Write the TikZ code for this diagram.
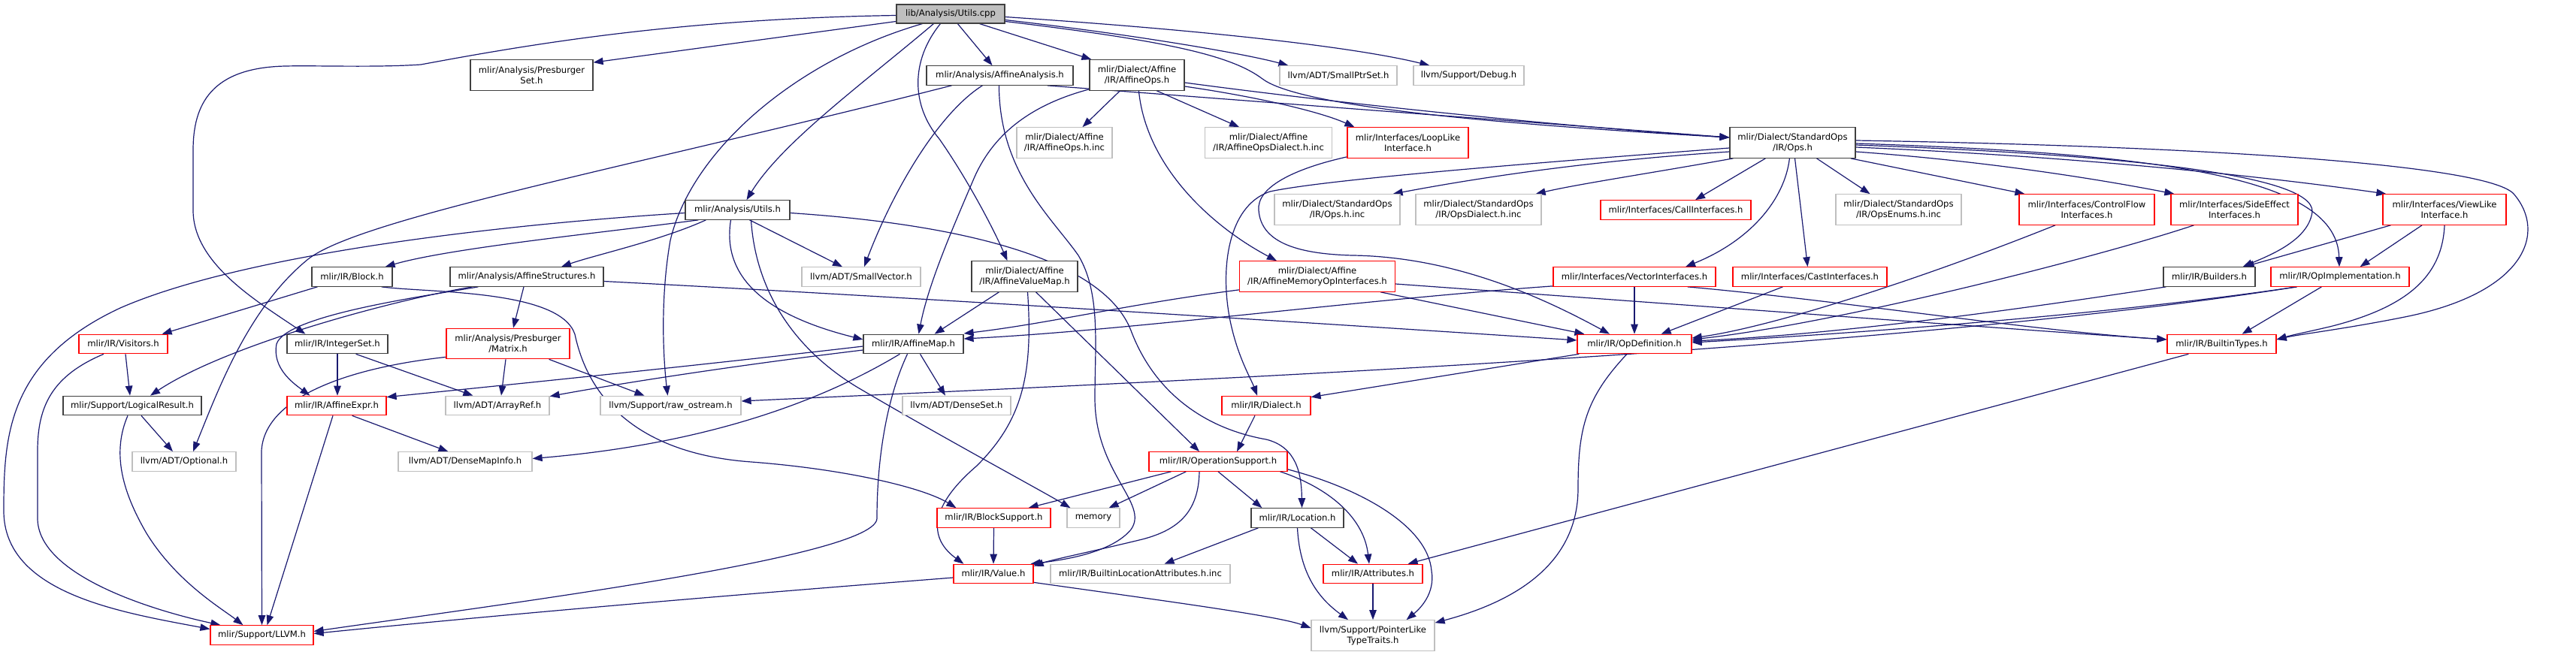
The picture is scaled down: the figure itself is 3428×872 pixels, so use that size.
\documentclass[tikz,border=0pt]{standalone}
\usepackage{fontspec}
\setmainfont{DejaVu Sans}
\usetikzlibrary{arrows.meta,calc}
\definecolor{edgecol}{HTML}{191970}
\definecolor{grayb}{HTML}{BFBFBF}
\definecolor{darkb}{HTML}{404040}
\definecolor{redb}{HTML}{FF0000}
\pgfdeclarelayer{bg}
\pgfsetlayers{bg,main}
\tikzset{
 nb/.style={draw, rectangle, line width=1.2pt, inner xsep=6pt, inner ysep=0pt,
   font=\fontsize{11.6}{14.2}\selectfont, align=center, fill=white, minimum height=25.5pt},
 bbox/.style={nb, draw=darkb},
 gbox/.style={nb, draw=grayb},
 rbox/.style={nb, draw=redb},
 rtbox/.style={nb, draw=darkb, fill=grayb},
 tall/.style={minimum height=40.5pt},
 e/.style={draw=edgecol, line width=1.2pt, -{Triangle[length=13pt,width=9.5pt]}}
}
\begin{document}
\begin{tikzpicture}[x=1pt,y=-1pt]
\useasboundingbox (0,0) rectangle (3428,872);
% ---- nodes
\node[rtbox, minimum width=144pt, minimum height=25pt] (root) at (1265,18.5) {lib/Analysis/Utils.cpp};
\node[bbox, tall, minimum width=163pt] (pset) at (707.5,100) {mlir/Analysis/Presburger\\Set.h};
\node[bbox, minimum width=195pt] (aanal) at (1330.5,100.5) {mlir/Analysis/AffineAnalysis.h};
\node[bbox, tall, minimum width=126pt] (aops) at (1513,100) {mlir/Dialect/Affine\\/IR/AffineOps.h};
\node[gbox, minimum width=156pt] (sptr) at (1781,100.5) {llvm/ADT/SmallPtrSet.h};
\node[gbox, minimum width=147pt] (dbg) at (1954.5,100.5) {llvm/Support/Debug.h};
\node[gbox, tall, minimum width=127pt] (aopsinc) at (1416.5,190) {mlir/Dialect/Affine\\/IR/AffineOps.h.inc};
\node[gbox, tall, minimum width=169pt] (aopsdinc) at (1688,190) {mlir/Dialect/Affine\\/IR/AffineOpsDialect.h.inc};
\node[rbox, tall, minimum width=161pt] (loop) at (1873.5,190) {mlir/Interfaces/LoopLike\\Interface.h};
\node[bbox, tall, minimum width=167pt] (opsh) at (2385.5,190) {mlir/Dialect/StandardOps\\/IR/Ops.h};
\node[bbox, minimum width=139pt] (uth) at (981.5,279.5) {mlir/Analysis/Utils.h};
\node[gbox, tall, minimum width=167pt] (opsinc) at (1779.5,279) {mlir/Dialect/StandardOps\\/IR/Ops.h.inc};
\node[gbox, tall, minimum width=167pt] (opsdinc) at (1967.5,279) {mlir/Dialect/StandardOps\\/IR/OpsDialect.h.inc};
\node[rbox, minimum width=200pt] (callif) at (2230,279.5) {mlir/Interfaces/CallInterfaces.h};
\node[gbox, tall, minimum width=167pt] (opsenum) at (2526.5,279) {mlir/Dialect/StandardOps\\/IR/OpsEnums.h.inc};
\node[rbox, tall, minimum width=180pt] (ctrlflow) at (2777,279) {mlir/Interfaces/ControlFlow\\Interfaces.h};
\node[rbox, tall, minimum width=169pt] (sideeff) at (2973.5,279) {mlir/Interfaces/SideEffect\\Interfaces.h};
\node[rbox, tall, minimum width=164pt] (viewlike) at (3253,279) {mlir/Interfaces/ViewLike\\Interface.h};
\node[bbox, minimum width=107pt] (block) at (468.5,368.5) {mlir/IR/Block.h};
\node[bbox, minimum width=204pt] (astruct) at (701,368.5) {mlir/Analysis/AffineStructures.h};
\node[gbox, minimum width=158pt] (svec) at (1146,368.5) {llvm/ADT/SmallVector.h};
\node[bbox, tall, minimum width=141pt] (avmap) at (1363.5,368) {mlir/Dialect/Affine\\/IR/AffineValueMap.h};
\node[rbox, tall, minimum width=207pt] (amemop) at (1753,368) {mlir/Dialect/Affine\\/IR/AffineMemoryOpInterfaces.h};
\node[rbox, minimum width=216pt] (vecif) at (2175,368.5) {mlir/Interfaces/VectorInterfaces.h};
\node[rbox, minimum width=205pt] (castif) at (2408.5,368.5) {mlir/Interfaces/CastInterfaces.h};
\node[bbox, minimum width=122pt] (builders) at (2940,368.5) {mlir/IR/Builders.h};
\node[rbox, minimum width=184pt] (opimpl) at (3114,368.5) {mlir/IR/OpImplementation.h};
\node[rbox, minimum width=118pt] (visitors) at (164,458) {mlir/IR/Visitors.h};
\node[bbox, minimum width=134pt] (intset) at (449,458) {mlir/IR/IntegerSet.h};
\node[rbox, tall, minimum width=164pt] (matrix) at (676,457.5) {mlir/Analysis/Presburger\\/Matrix.h};
\node[bbox, minimum width=133pt] (amap) at (1215.5,458) {mlir/IR/AffineMap.h};
\node[rbox, minimum width=152pt] (opdef) at (2175,458) {mlir/IR/OpDefinition.h};
\node[rbox, minimum width=145pt] (btypes) at (2956.5,458) {mlir/IR/BuiltinTypes.h};
\node[bbox, minimum width=184pt] (logres) at (176,540) {mlir/Support/LogicalResult.h};
\node[rbox, minimum width=132pt] (aexpr) at (448,540) {mlir/IR/AffineExpr.h};
\node[gbox, minimum width=138pt] (arrayref) at (662,540) {llvm/ADT/ArrayRef.h};
\node[gbox, minimum width=187pt] (rawos) at (892.5,540) {llvm/Support/raw\_ostream.h};
\node[gbox, minimum width=144pt] (denseset) at (1273,540) {llvm/ADT/DenseSet.h};
\node[rbox, minimum width=118pt] (dialect) at (1685,540) {mlir/IR/Dialect.h};
\node[gbox, minimum width=138pt] (optional) at (245,614.5) {llvm/ADT/Optional.h};
\node[gbox, minimum width=178pt] (dmapinfo) at (619,614.5) {llvm/ADT/DenseMapInfo.h};
\node[rbox, minimum width=184pt] (opsupport) at (1621,614.5) {mlir/IR/OperationSupport.h};
\node[rbox, minimum width=151pt] (blocksup) at (1322.5,689.5) {mlir/IR/BlockSupport.h};
\node[gbox, minimum width=70pt] (memory) at (1455,689.5) {memory};
\node[bbox, minimum width=123pt] (location) at (1726.5,689.5) {mlir/IR/Location.h};
\node[rbox, minimum width=106pt] (value) at (1322,764) {mlir/IR/Value.h};
\node[gbox, minimum width=239pt] (bla) at (1517.5,764) {mlir/IR/BuiltinLocationAttributes.h.inc};
\node[rbox, minimum width=132pt] (attrs) at (1827,764) {mlir/IR/Attributes.h};
\node[rbox, minimum width=137pt] (llvm) at (348.5,845.5) {mlir/Support/LLVM.h};
\node[gbox, tall, minimum width=164pt] (ptrlike) at (1827,846) {llvm/Support/PointerLike\\TypeTraits.h};
% ---- edges
\begin{pgfonlayer}{bg}
\fill[white] (0,0) rectangle (3428,872);
% root
\draw[e] ($(root.west)+(0,2)$) .. controls (900,25) and (700,60) .. (560,86) .. controls (500,90) and (420,87) .. (380,88) .. controls (280,90) and (257,140) .. (257,200) -- (257,280) .. controls (257,350) and (340,400) .. ($(intset.north west)+(25,0)$);
\draw[e] ($(root.west)+(0,10)$) -- ($(pset.north east)+(0,4)$);
\draw[e] ($(root.south west)+(35,0)$) .. controls (1060,80) and (920,200) .. (892,320) .. controls (878,400) and (883,480) .. ($(rawos.north)+(-4,0)$);
\draw[e] ($(root.south west)+(50,0)$) .. controls (1150,110) and (1040,190) .. ($(uth.north)+(12,0)$);
\draw[e] ($(root.south west)+(59,0)$) .. controls (1212,80) and (1212,140) .. (1250,185) .. controls (1285,235) and (1320,300) .. ($(avmap.north)+(-23,0)$);
\draw[e] ($(root.south west)+(82,0)$) -- ($(aanal.north)+(-10,0)$);
\draw[e] ($(root.south east)+(-34,0)$) -- ($(aops.north west)+(3,0)$);
\draw[e] ($(root.east)+(0,4)$) .. controls (1600,40) and (1800,62) .. ($(dbg.north west)+(22,0)$);
\draw[e] ($(root.east)+(0,8)$) .. controls (1500,45) and (1650,70) .. ($(sptr.north west)+(12,0)$);
\draw[e] ($(root.east)+(0,10)$) .. controls (1560,55) and (1640,75) .. (1680,105) .. controls (1720,135) and (1900,160) .. ($(opsh.west)+(0,-7)$);
% aanal
\draw[e] ($(aanal.south west)+(34,0)$) .. controls (850,220) and (480,290) .. (410,345) .. controls (330,410) and (290,520) .. ($(optional.north)+(12,0)$);
\draw[e] ($(aanal.south west)+(75,0)$) .. controls (1250,150) and (1190,250) .. ($(svec.north)+(4,0)$);
\draw[e] ($(aanal.south west)+(97,0)$) .. controls (1330,230) and (1400,290) .. (1435,340) .. controls (1465,390) and (1457,460) .. (1457,530) .. controls (1457,630) and (1530,670) .. (1505,705) .. controls (1480,735) and (1420,745) .. ($(value.north east)+(-4,0)$);
\draw[e] ($(aanal.south east)+(-35,0)$) -- ($(opsh.west)+(0,-7)$);
% aops
\draw[e] ($(aops.south west)+(0,-2)$) .. controls (1370,140) and (1320,180) .. (1295,240) .. controls (1265,310) and (1235,380) .. ($(amap.north)+(7,0)$);
\draw[e] ($(aops.south west)+(41,0)$) -- ($(aopsinc.north)+(24,0)$);
\draw[e] ($(aops.south west)+(66,0)$) .. controls (1525,220) and (1610,300) .. ($(amemop.north west)+(50,0)$);
\draw[e] ($(aops.south west)+(90,0)$) -- ($(aopsdinc.north)+(-39,0)$);
\draw[e] ($(aops.east)+(0,10)$) .. controls (1800,140) and (2100,170) .. ($(opsh.west)+(0,-7)$);
\draw[e] ($(aops.east)+(0,15)$) .. controls (1680,130) and (1760,150) .. ($(loop.north west)+(10,0)$);
% loop
\draw[e] ($(loop.south west)+(0,-2)$) .. controls (1720,225) and (1672,250) .. (1675,280) .. controls (1678,320) and (1720,338) .. (1800,340) .. controls (1940,342) and (2060,400) .. ($(opdef.north)+(-33,0)$);
% opsh
\draw[e] ($(opsh.west)+(0,7)$) .. controls (2000,220) and (1760,240) .. (1690,255) .. controls (1630,275) and (1622,370) .. (1640,440) .. controls (1650,480) and (1665,505) .. ($(dialect.north)+(-12,0)$);
\draw[e] ($(opsh.west)+(0,12)$) .. controls (2100,215) and (1950,240) .. ($(opsinc.north east)+(-10,0)$);
\draw[e] ($(opsh.south west)+(5,0)$) .. controls (2200,230) and (2100,245) .. ($(opsdinc.north east)+(-8,0)$);
\draw[e] ($(opsh.south west)+(48,0)$) -- ($(callif.north)+(26,0)$);
\draw[e] ($(opsh.south west)+(80,0)$) .. controls (2375,265) and (2330,320) .. ($(vecif.north)+(68,0)$);
\draw[e] ($(opsh.south)+(3,0)$) -- ($(castif.north)+(-3,0)$);
\draw[e] ($(opsh.south)+(32,0)$) -- ($(opsenum.north)+(-38,0)$);
\draw[e] ($(opsh.south east)+(-7,0)$) -- ($(ctrlflow.north west)+(8,0)$);
\draw[e] ($(opsh.east)+(0,12)$) .. controls (2650,215) and (2800,240) .. ($(sideeff.north west)+(5,0)$);
\draw[e] ($(opsh.east)+(0,6)$) .. controls (2800,210) and (3050,240) .. ($(viewlike.north west)+(5,0)$);
\draw[e] ($(opsh.east)+(0,3)$) .. controls (2800,205) and (3080,230) .. (3077,282) .. controls (3072,320) and (3020,340) .. ($(builders.north east)+(-17,0)$);
\draw[e] ($(opsh.east)+(0,1)$) .. controls (2900,205) and (3110,240) .. ($(opimpl.north)+(-1,0)$);
\draw[e] ($(opsh.east)+(0,-3)$) .. controls (2950,195) and (3310,220) .. (3345,258) .. controls (3390,310) and (3360,390) .. (3200,422) .. controls (3120,438) and (3060,445) .. ($(btypes.east)+(0,-6)$);
% uth
\draw[e] ($(uth.west)+(0,4)$) .. controls (650,300) and (320,340) .. (160,410) .. controls (10,480) and (5,580) .. (5,680) .. controls (5,790) and (160,815) .. ($(llvm.west)+(0,-8)$);
\draw[e] ($(uth.south west)+(18,0)$) .. controls (800,310) and (600,330) .. ($(block.north east)+(-10,0)$);
\draw[e] ($(uth.south west)+(28,0)$) .. controls (880,320) and (790,340) .. ($(astruct.north)+(46,0)$);
\draw[e] ($(uth.south)+(16,0)$) -- ($(svec.north)+(-25,0)$);
\draw[e] ($(uth.south)+(18,0)$) .. controls (1005,380) and (1050,460) .. (1140,515) .. controls (1250,580) and (1380,650) .. ($(memory.north west)+(5,0)$);
\draw[e] ($(uth.south)+(-9,0)$) .. controls (960,370) and (1020,420) .. ($(amap.west)+(0,-6)$);
\draw[e] ($(uth.east)+(0,4)$) .. controls (1300,300) and (1470,350) .. (1505,440) .. controls (1535,520) and (1600,570) .. (1685,585) .. controls (1725,595) and (1732,630) .. ($(location.north)+(6,0)$);
% astruct
\draw[e] ($(astruct.south)+(-4,0)$) -- ($(matrix.north)+(7,0)$);
\draw[e] ($(astruct.south west)+(38,0)$) .. controls (560,395) and (380,420) .. (368,458) .. controls (362,490) and (390,510) .. ($(aexpr.north west)+(31,0)$);
\draw[e] ($(astruct.south west)+(30,0)$) .. controls (520,400) and (300,460) .. ($(logres.north)+(24,0)$);
\draw[e] ($(astruct.east)+(0,6)$) .. controls (1200,395) and (1750,430) .. ($(opdef.west)+(0,-5)$);
% block
\draw[e] ($(block.south west)+(8,0)$) -- ($(visitors.north east)+(-8,0)$);
\draw[e] ($(block.south east)+(-15,0)$) .. controls (570,390) and (745,385) .. (765,445) .. controls (785,540) and (860,605) .. (1000,615) .. controls (1130,625) and (1230,650) .. ($(blocksup.north west)+(26,0)$);
% visitors
\draw[e] ($(visitors.south)+(3,0)$) -- ($(logres.north)+(-3,0)$);
\draw[e] ($(visitors.south)+(-26,0)$) .. controls (70,500) and (50,540) .. (50,600) -- (50,690) .. controls (50,765) and (200,812) .. ($(llvm.north west)+(14,0)$);
% logres
\draw[e] ($(logres.south)+(12,0)$) -- ($(optional.north)+(-15,0)$);
\draw[e] ($(logres.south)+(-6,0)$) .. controls (150,600) and (160,650) .. (195,710) .. controls (235,775) and (295,810) .. ($(llvm.north west)+(44,0)$);
% intset
\draw[e] (intset.south) -- ($(aexpr.north)+(1,0)$);
\draw[e] ($(intset.south east)+(-43,0)$) -- ($(arrayref.north west)+(37,0)$);
% matrix
\draw[e] ($(matrix.south)+(-3,0)$) -- ($(arrayref.north)+(5,0)$);
\draw[e] ($(matrix.south east)+(-28,0)$) -- ($(rawos.north)+(-35,0)$);
\draw[e] ($(matrix.south west)+(0,-3)$) .. controls (460,490) and (352,530) .. (348,600) -- (llvm.north);
% aexpr
\draw[e] ($(aexpr.south)+(-5,0)$) -- ($(llvm.north)+(7,0)$);
\draw[e] ($(aexpr.south east)+(-46,0)$) -- ($(dmapinfo.north west)+(67,0)$);
% amap
\draw[e] ($(amap.west)+(0,3)$) .. controls (900,490) and (600,520) .. ($(aexpr.north east)+(0,2)$);
\draw[e] ($(amap.west)+(0,8)$) .. controls (950,490) and (800,515) .. ($(arrayref.north east)+(0,1)$);
\draw[e] ($(amap.south west)+(49,0)$) .. controls (1100,530) and (950,590) .. ($(dmapinfo.east)+(0,-4)$);
\draw[e] ($(amap.south)+(9,0)$) -- ($(denseset.north)+(-15,0)$);
\draw[e] ($(amap.south)+(-8,0)$) .. controls (1180,530) and (1167,610) .. (1167,690) .. controls (1167,740) and (700,800) .. ($(llvm.east)+(0,-5)$);
% avmap
\draw[e] ($(avmap.south west)+(37,0)$) -- ($(amap.north east)+(-39,0)$);
\draw[e] ($(avmap.south east)+(-56,0)$) -- ($(opsupport.north)+(-25,0)$);
\draw[e] ($(avmap.south)+(4,0)$) .. controls (1375,500) and (1360,560) .. (1300,620) .. controls (1230,680) and (1240,720) .. ($(value.north west)+(14,0)$);
% amemop
\draw[e] ($(amemop.south west)+(0,-3)$) .. controls (1500,405) and (1400,430) .. ($(amap.east)+(0,-14)$);
\draw[e] ($(amemop.south east)+(-20,0)$) -- ($(opdef.north west)+(10,0)$);
\draw[e] ($(amemop.east)+(0,10)$) .. controls (2300,410) and (2700,440) .. ($(btypes.west)+(0,-6)$);
% vecif
\draw[e] (vecif.south) -- (opdef.north);
\draw[e] ($(vecif.south west)+(0,-1)$) .. controls (1800,400) and (1500,440) .. ($(amap.east)+(0,-7)$);
\draw[e] ($(vecif.south east)+(-38,0)$) .. controls (2450,400) and (2700,440) .. ($(btypes.west)+(0,-6)$);
% castif, ctrlflow, sideeff, builders, opimpl, viewlike
\draw[e] ($(castif.south west)+(67,0)$) -- ($(opdef.north east)+(-41,0)$);
\draw[e] ($(ctrlflow.south)+(-42,0)$) .. controls (2560,370) and (2360,435) .. ($(opdef.east)+(0,-8)$);
\draw[e] ($(sideeff.south west)+(31,0)$) .. controls (2800,340) and (2450,430) .. ($(opdef.east)+(0,-6)$);
\draw[e] ($(builders.south west)+(4,0)$) .. controls (2700,410) and (2450,445) .. ($(opdef.east)+(0,-4)$);
\draw[e] ($(opimpl.south west)+(35,0)$) .. controls (2800,420) and (2450,445) .. ($(opdef.east)+(0,-2)$);
\draw[e] ($(opimpl.south west)+(68,0)$) -- ($(btypes.north east)+(-46,0)$);
\draw[e] ($(opimpl.south west)+(35,0)$) .. controls (2500,470) and (1500,510) .. ($(rawos.east)+(0,-6)$);
\draw[e] ($(viewlike.south west)+(11,0)$) -- ($(builders.north east)+(-15,0)$);
\draw[e] ($(viewlike.south)+(-30,0)$) -- ($(opimpl.north east)+(-66,0)$);
\draw[e] (viewlike.south) .. controls (3250,370) and (3200,410) .. (3100,435) .. controls (3070,442) and (3050,446) .. ($(btypes.east)+(0,-6)$);
% opdef, btypes, dialect
\draw[e] ($(opdef.south west)+(3,0)$) -- ($(dialect.north east)+(0,2)$);
\draw[e] ($(opdef.south)+(-10,0)$) .. controls (2110,530) and (2100,570) .. (2100,650) .. controls (2100,760) and (2000,805) .. ($(ptrlike.north east)+(0,4)$);
\draw[e] ($(btypes.south west)+(29,0)$) -- ($(attrs.north east)+(-20,0)$);
\draw[e] ($(dialect.south)+(-15,0)$) -- ($(opsupport.north)+(25,0)$);
% opsupport
\draw[e] ($(opsupport.south west)+(30,0)$) -- ($(blocksup.north east)+(-30,0)$);
\draw[e] ($(opsupport.south west)+(50,0)$) -- ($(memory.north east)+(-15,0)$);
\draw[e] ($(opsupport.south)+(-25,0)$) .. controls (1595,680) and (1570,705) .. (1520,718) .. controls (1450,735) and (1400,745) .. ($(value.north east)+(0,3)$);
\draw[e] (opsupport.south) -- ($(location.north west)+(15,0)$);
\draw[e] ($(opsupport.south east)+(-10,0)$) .. controls (1770,650) and (1815,690) .. ($(attrs.north)+(-5,0)$);
\draw[e] ($(opsupport.south east)+(0,-3)$) .. controls (1810,650) and (1900,700) .. (1905,760) .. controls (1910,790) and (1890,810) .. ($(ptrlike.north east)+(-38,0)$);
% location, attrs, blocksup, value
\draw[e] ($(location.south west)+(10,0)$) -- ($(bla.north)+(32,0)$);
\draw[e] ($(location.south)+(18,0)$) -- ($(attrs.north)+(-20,0)$);
\draw[e] (location.south) .. controls (1730,770) and (1760,800) .. ($(ptrlike.north)+(-33,0)$);
\draw[e] (attrs.south) -- (ptrlike.north);
\draw[e] (blocksup.south) -- (value.north);
\draw[e] ($(value.west)+(0,5)$) .. controls (1000,790) and (700,815) .. ($(llvm.east)+(0,-2)$);
\draw[e] ($(value.south east)+(0,-2)$) .. controls (1550,800) and (1700,820) .. ($(ptrlike.west)+(0,-10)$);
\end{pgfonlayer}
\end{tikzpicture}
\end{document}
